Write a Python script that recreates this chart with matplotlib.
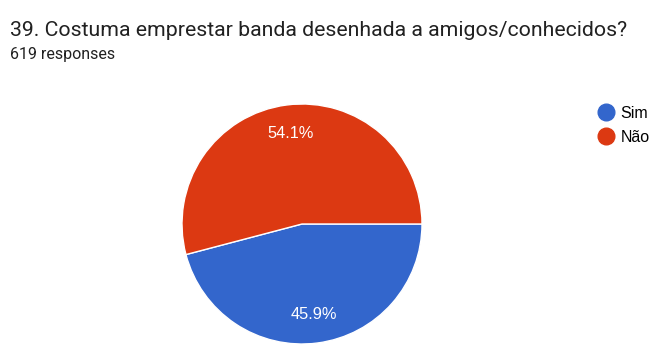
import matplotlib.pyplot as plt
from matplotlib.lines import Line2D

labels = ["Sim", "Não"]
values = [45.9, 54.1]
colors = ["#3366CC", "#DC3912"]
title = "39. Costuma emprestar banda desenhada a amigos/conhecidos?"
subtitle = "619 responses"

W, H = 663, 359
fig = plt.figure(figsize=(W / 100, H / 100), dpi=100)
ax = fig.add_axes([0, 0, 1, 1])

wedges, texts, autotexts = ax.pie(
    values,
    colors=colors,
    center=(302, H - 224),
    radius=120,
    startangle=0,
    counterclock=False,
    autopct="%.1f%%",
    pctdistance=0.76,
    wedgeprops=dict(edgecolor="white", linewidth=1),
    textprops=dict(color="white", fontsize=11.8, family="Liberation Sans"),
    frame=True,
)
ax.set_xlim(0, W)
ax.set_ylim(0, H)
ax.set_aspect("equal")
ax.axis("off")

fig.text(10 / W, 1 - 36 / H, title, fontsize=15.3, family="Roboto", color="#212121")
fig.text(10 / W, 1 - 59 / H, subtitle, fontsize=11.5, family="Roboto", color="#212121")

handles = [
    Line2D([], [], marker="o", linestyle="", markersize=12, markerfacecolor=c, markeredgecolor=c)
    for c in colors
]
ax.legend(
    handles, labels,
    loc="upper left", bbox_to_anchor=(596 / W, 1 - 106 / H),
    borderaxespad=0, borderpad=0, handlelength=1.2,
    frameon=False, handletextpad=0.35, labelspacing=0.55,
    prop=dict(family="Liberation Sans", size=11.5),
)

fig.savefig("out.png", dpi=100, facecolor="white")
